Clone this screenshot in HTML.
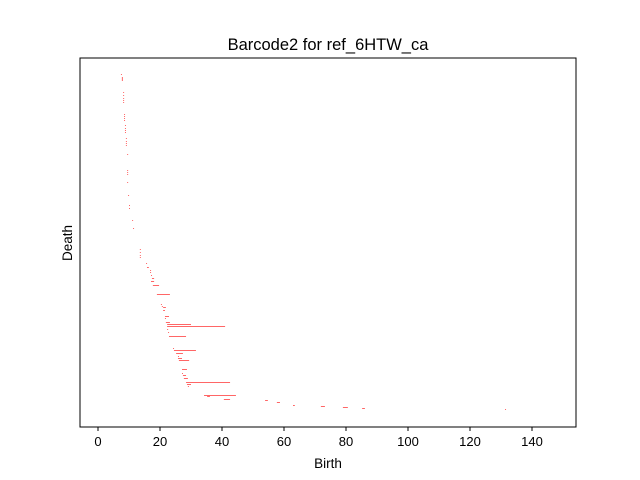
<!DOCTYPE html>
<html><head><meta charset="utf-8"><style>
body{margin:0;background:#fff}
svg{display:block;font-family:"Liberation Sans","DejaVu Sans",sans-serif}
</style></head><body>
<svg id="chart" width="640" height="480">
<rect width="640" height="480" fill="#fff"/>
<text x="328" y="50" font-size="16.5" text-anchor="middle">Barcode2 for ref_6HTW_ca</text>
<g id="bars"></g>
<rect x="80" y="58" width="496" height="369" fill="none" stroke="#000" stroke-width="1"/>
<g id="xticks"></g>
<text x="328" y="468" font-size="13.5" text-anchor="middle">Birth</text>
<text x="72" y="243" font-size="13.5" text-anchor="middle" transform="rotate(-90 72 243)">Death</text>
</svg>
<script>
const xTicks=[0,20,40,60,80,100,120,140];
const births=[7.4,7.7,7.7,7.7,7.7,8.1,8.1,8.1,8.1,8.1,8.4,8.4,8.4,8.4,8.7,8.7,8.7,8.7,9.0,9.0,9.0,9.0,9.4,9.4,9.4,9.4,9.4,9.7,10.0,10.0,11.0,11.3,13.5,13.5,13.5,13.5,15.5,15.8,16.8,16.8,17.1,17.4,17.1,17.7,19.0,20.3,20.6,21.0,21.0,21.6,21.6,21.9,22.3,22.3,22.3,22.6,22.9,24.2,24.5,25.2,25.8,25.8,26.1,27.1,27.1,27.4,27.7,28.4,28.7,29.0,34.2,35.2,40.6,53.9,57.7,62.9,71.9,79.0,85.2,131.3];
const deaths=[7.7,8.0,8.0,8.0,8.0,8.4,8.4,8.4,8.4,8.4,8.7,8.7,8.7,8.7,9.0,9.0,9.0,9.0,9.3,9.3,9.3,9.3,9.7,9.7,9.7,9.7,9.7,10.0,10.3,10.3,11.3,11.6,13.8,13.8,13.8,13.8,15.8,16.4,17.1,17.1,17.4,18.1,18.1,19.7,23.2,20.6,20.9,21.9,21.6,22.9,21.9,23.2,30.0,41.0,22.6,22.9,28.4,24.5,31.6,27.4,26.1,27.1,29.4,28.7,27.4,28.4,29.0,42.6,30.0,29.3,44.5,36.1,42.6,54.8,58.7,63.5,73.2,80.6,86.1,131.6];
const ranks=[353,350,349,348,347,335,332,329,327,325,313,311,309,307,302,299,297,295,289,286,284,282,273,257,255,253,245,232,222,219,207,199,178,175,172,170,164,160,157,155,152,149,146,142,133,123,121,120,117,111,109,105,103,101,98,95,91,79,77,74,71,69,67,58,54,52,49,45,43,41,32,31,28,27,25,22,21,20,19,18];
const X=v=>98+3.1*v, Y=r=>427-r;
const NS='http://www.w3.org/2000/svg';
const bars=document.getElementById('bars');
births.forEach((b,i)=>{
  const l=document.createElementNS(NS,'line');
  l.setAttribute('x1',X(b));l.setAttribute('x2',Math.max(X(deaths[i]),X(b)+1));
  l.setAttribute('y1',Y(ranks[i])+0.5);l.setAttribute('y2',Y(ranks[i])+0.5);
  l.setAttribute('stroke','#ff0000');l.setAttribute('stroke-opacity','0.6');l.setAttribute('stroke-width','1');
  
  
  bars.appendChild(l);
});
const xg=document.getElementById('xticks');
xTicks.forEach(t=>{
  const l=document.createElementNS(NS,'line');
  l.setAttribute('x1',X(t));l.setAttribute('x2',X(t));l.setAttribute('y1',427);l.setAttribute('y2',431);l.setAttribute('stroke','#000');
  
  
  xg.appendChild(l);
  const tx=document.createElementNS(NS,'text');
  tx.setAttribute('x',X(t));tx.setAttribute('y',446);tx.setAttribute('font-size','13');tx.setAttribute('text-anchor','middle');
  tx.textContent=t;
  
  
  xg.appendChild(tx);
});
</script>
</body></html>
